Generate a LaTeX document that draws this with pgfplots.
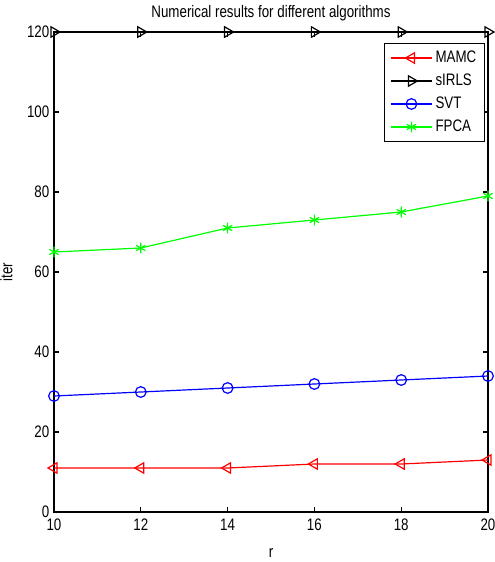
\documentclass[border=0pt]{standalone}
\usepackage{pgfplots}
\pgfplotsset{compat=1.18}
\usepackage{fontspec}
\setmainfont{Liberation Sans}[FakeStretch=0.8]
\begin{document}
\begin{tikzpicture}
\begin{axis}[
  name=ax,
  scale only axis,
  width=325.5pt, height=360pt,
  xmin=10, xmax=20, ymin=0, ymax=120,
  xtick={10,12,...,20}, ytick={0,20,...,120},
  tick align=inside,
  major tick length=3.5pt,
  axis line style={line width=1.4pt},
  every tick/.style={black, line width=0.8pt},
  /pgf/number format/assume math mode=true,
  tick label style={font=\fontsize{12.5}{13}\selectfont},
  xticklabel style={yshift=-1.5pt},
  yticklabel style={xshift=0pt},
  title={Numerical results for different algorithms},
  title style={font=\fontsize{12.5}{13}\selectfont, yshift=-1pt},
  xlabel={r}, ylabel={iter},
  xlabel style={font=\fontsize{12.5}{13}\selectfont, yshift=-7pt},
  ylabel style={font=\fontsize{12.5}{13}\selectfont, yshift=4pt},
  clip=false,
  legend style={at={(0.993,0.978)}, anchor=north east, draw=black, line width=1pt,
    font=\fontsize{12.5}{13}\selectfont, row sep=3pt, inner sep=4pt},
  legend cell align=left,
  legend image post style={line width=0.9pt},
  legend image code/.code={\draw[mark repeat=2,mark phase=2] plot coordinates {(0cm,0cm) (0.55cm,0cm) (1.1cm,0cm)};},
]
\addplot[red, line width=0.9pt, mark=triangle, mark size=4.5pt, mark options={rotate=90, solid}]
  coordinates {(10,11) (12,11) (14,11) (16,12) (18,12) (20,13)};
\addlegendentry{MAMC}
\addplot[black, line width=0.9pt, mark=triangle, mark size=4.5pt, mark options={rotate=-90, solid}]
  coordinates {(10,120) (12,120) (14,120) (16,120) (18,120) (20,120)};
\addlegendentry{sIRLS}
\addplot[blue, line width=0.9pt, mark=o, mark size=4pt, mark options={solid}]
  coordinates {(10,29) (12,30) (14,31) (16,32) (18,33) (20,34)};
\addlegendentry{SVT}
\addplot[green, line width=0.9pt, mark=asterisk, mark size=4pt, mark options={solid}]
  coordinates {(10,65) (12,66) (14,71) (16,73) (18,75) (20,79)};
\addlegendentry{FPCA}
\end{axis}
\pgfresetboundingbox
\path[use as bounding box] ([xshift=-40.5pt,yshift=-37.5pt]ax.south west) rectangle ([xshift=5.25pt,yshift=24pt]ax.north east);
\end{tikzpicture}
\end{document}
